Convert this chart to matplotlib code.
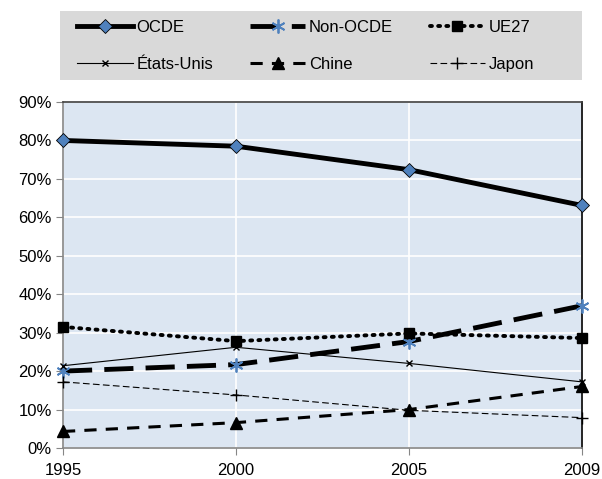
import matplotlib as mpl
mpl.use("Agg")
from matplotlib import pyplot as plt
from matplotlib import font_manager
from matplotlib.patches import Rectangle

# Prefer a narrow Arial-like face if present
names = {f.name for f in font_manager.fontManager.ttflist}
if "Liberation Sans Narrow" in names:
    plt.rcParams["font.family"] = ["Liberation Sans Narrow", "DejaVu Sans"]
else:
    plt.rcParams["font.family"] = ["Liberation Sans", "DejaVu Sans"]

years = ["1995", "2000", "2005", "2009"]
ocde = [80.0, 78.5, 72.4, 63.1]
non_ocde = [20.0, 21.7, 27.7, 37.0]
ue27 = [31.5, 27.8, 29.8, 28.6]
etats_unis = [21.4, 26.2, 22.0, 17.2]
chine = [4.3, 6.6, 10.0, 16.0]
japon = [17.2, 13.8, 9.8, 7.9]

blue = "#4f81bd"

fig = plt.figure(figsize=(6.02, 4.79), dpi=100)
ax = fig.add_axes((63/602, 1 - 448/479, 519/602, 346/479))
ax.set_facecolor("#dce6f2")

x = range(len(years))
h_ocde, = ax.plot(x, ocde, color="black", lw=3.5, marker="D", ms=7,
                  mfc=blue, mec="black", mew=0.6, label="OCDE", zorder=8)
h_non, = ax.plot(x, non_ocde, color="black", lw=3.5, ls=(0, (6, 2.5)),
                 marker=(6, 2, 0), ms=10, mec=blue, mew=1.3,
                 label="Non-OCDE", zorder=7)
h_ue, = ax.plot(x, ue27, color="black", lw=2.8, ls=(0, (0.5, 1.6)),
                dash_capstyle="round", marker="s", ms=7, label="UE27",
                zorder=7)
h_us, = ax.plot(x, etats_unis, color="black", lw=0.8, marker="x", ms=5,
                mew=1.0, label="États-Unis", zorder=7)
h_ch, = ax.plot(x, chine, color="black", lw=2.2, ls=(0, (4, 3)),
                marker="^", ms=9, label="Chine", zorder=7)
h_jp, = ax.plot(x, japon, color="black", lw=0.8, ls=(0, (6, 3)),
                marker="+", ms=9, mew=1.0, label="Japon", zorder=7)
for h in (h_ocde, h_non, h_ue, h_us, h_ch, h_jp):
    h.set_clip_on(False)

ax.set_xlim(0, 3)
ax.set_ylim(0, 90)
ax.set_xticks(list(x))
ax.set_xticklabels(years)
ax.set_yticks(range(0, 91, 10))
ax.set_yticklabels([f"{v}%" for v in range(0, 91, 10)])
ax.tick_params(labelsize=12, length=5, color="#868686", pad=3)
ax.tick_params(axis="x", pad=6)
ax.grid(True, color="white", lw=1.2)
ax.set_axisbelow(True)
for side in ("left", "bottom"):
    ax.spines[side].set_color("#868686")
    ax.spines[side].set_linewidth(1.2)
ax.spines["right"].set_color("black")
ax.spines["right"].set_linewidth(1.2)
ax.spines["top"].set_color("#404040")
ax.spines["top"].set_linewidth(1.2)
for sp in ax.spines.values():
    sp.set_zorder(6)

# grey legend box, fixed size like the original
fig.patches.append(Rectangle((60/602, 1 - 80/479), 522/602, 69/479,
                             transform=fig.transFigure, facecolor="#d9d9d9",
                             edgecolor="none", zorder=0))

handles = [h_ocde, h_us, h_non, h_ch, h_ue, h_jp]
leg = fig.legend(handles=handles, labels=[h.get_label() for h in handles],
                 ncol=3, loc="upper left",
                 bbox_to_anchor=(77/602, 1 - 20/479),
                 fontsize=12, frameon=False, borderpad=0, borderaxespad=0,
                 handlelength=3.35, handletextpad=0.2, columnspacing=2.2,
                 labelspacing=1.3)

fig.savefig("out.png", dpi=100)
